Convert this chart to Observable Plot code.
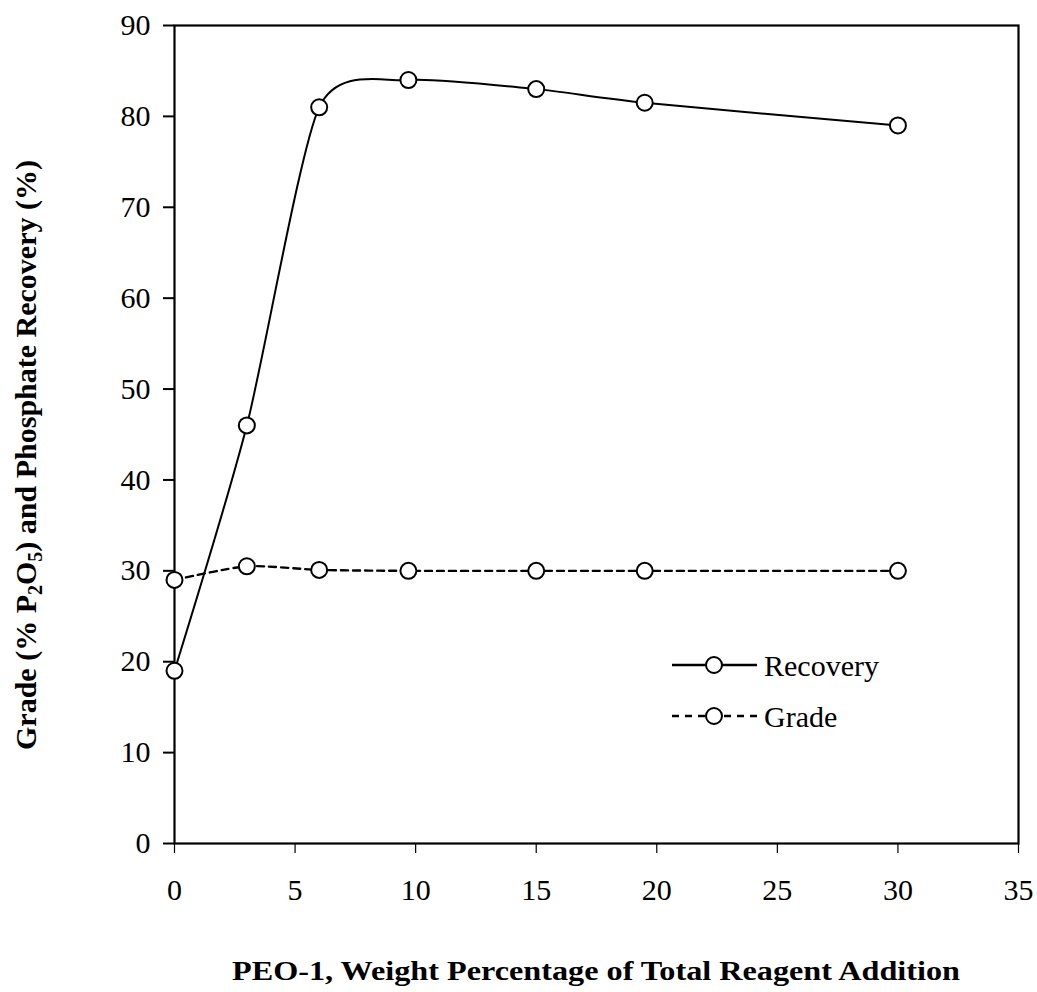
<!DOCTYPE html>
<html>
<head>
<meta charset="utf-8">
<script src="https://cdn.jsdelivr.net/npm/d3@7"></script>
<script src="https://cdn.jsdelivr.net/npm/@observablehq/plot@0.6"></script>
<style>
  body { margin: 0; background: white; }
  #chart { width: 1037px; height: 992px; }
</style>
</head>
<body>
<div id="chart"></div>
<script>
const peo = [0, 3, 6, 9.7, 15, 19.5, 30];
const recovery = [19, 46, 81, 84, 83, 81.5, 79];
const grade = [29, 30.5, 30.1, 30, 30, 30, 30];
const xTicks = [0, 5, 10, 15, 20, 25, 30, 35];
const yTicks = [0, 10, 20, 30, 40, 50, 60, 70, 80, 90];
const seriesNames = ["Recovery", "Grade"];
const xTitle = "PEO-1, Weight Percentage of Total Reagent Addition";

const recData = peo.map((x, i) => ({x, y: recovery[i]}));
const gradeData = peo.map((x, i) => ({x, y: grade[i]}));

const font = "'Liberation Serif', 'Times New Roman', serif";

const chart = Plot.plot({
  width: 1037,
  height: 992,
  marginLeft: 174,
  marginRight: 19,
  marginTop: 25,
  marginBottom: 149,
  style: {fontFamily: font, fontSize: "30px", color: "black", background: "white", overflow: "visible"},
  x: {domain: [0, 35], label: null},
  y: {domain: [0, 90], label: null},
  marks: [
    Plot.axisX({ticks: xTicks, tickSize: 10, tickPadding: 25, fontSize: 30, label: null, stroke: "black", strokeWidth: 1.2}),
    Plot.axisY({ticks: yTicks, tickSize: 11, tickPadding: 13, fontSize: 30, label: null, stroke: "black", strokeWidth: 2}),
    Plot.frame({stroke: "black", strokeWidth: 2.2}),
    Plot.line(gradeData, {x: "x", y: "y", curve: "cardinal", tension: 0.3, stroke: "black", strokeWidth: 2.4, strokeDasharray: "7,5"}),
    Plot.line(recData, {x: "x", y: "y", curve: "cardinal", tension: 0.3, stroke: "black", strokeWidth: 2}),
    Plot.dot(gradeData, {x: "x", y: "y", r: 8, fill: "white", stroke: "black", strokeWidth: 2}),
    Plot.dot(recData, {x: "x", y: "y", r: 8, fill: "white", stroke: "black", strokeWidth: 2})
  ]
});
document.getElementById("chart").appendChild(chart);

const svg = d3.select(chart);

// X axis title
svg.append("text")
  .attr("x", 232).attr("y", 980)
  .attr("text-anchor", "start")
  .attr("textLength", 728).attr("lengthAdjust", "spacingAndGlyphs")
  .attr("font-family", font).attr("font-size", 28).attr("font-weight", "bold")
  .attr("fill", "black")
  .text(xTitle);

// Y axis title with subscripts
const yt = svg.append("text")
  .attr("transform", "translate(36,455) rotate(-90)")
  .attr("text-anchor", "middle")
  .attr("font-family", font).attr("font-size", 30).attr("font-weight", "bold")
  .attr("fill", "black");
yt.append("tspan").text("Grade (% P");
yt.append("tspan").attr("font-size", 20).attr("dy", 6).text("2");
yt.append("tspan").attr("dy", -6).text("O");
yt.append("tspan").attr("font-size", 20).attr("dy", 6).text("5");
yt.append("tspan").attr("dy", -6).text(") and Phosphate Recovery (%)");

// Legend
const lg = svg.append("g");
const legendRows = [
  {name: seriesNames[0], y: 665, dash: null},
  {name: seriesNames[1], y: 716, dash: "7,6"}
];
legendRows.forEach(r => {
  lg.append("line").attr("x1", 672).attr("x2", 757).attr("y1", r.y).attr("y2", r.y)
    .attr("stroke", "black").attr("stroke-width", 2.4)
    .attr("stroke-dasharray", r.dash);
  lg.append("circle").attr("cx", 714).attr("cy", r.y).attr("r", 8)
    .attr("fill", "white").attr("stroke", "black").attr("stroke-width", 2);
  lg.append("text").attr("x", 764).attr("y", r.y).attr("dy", "0.35em")
    .attr("text-anchor", "start")
    .attr("font-family", font).attr("font-size", 30).attr("fill", "black")
    .text(r.name);
});
</script>
</body>
</html>
